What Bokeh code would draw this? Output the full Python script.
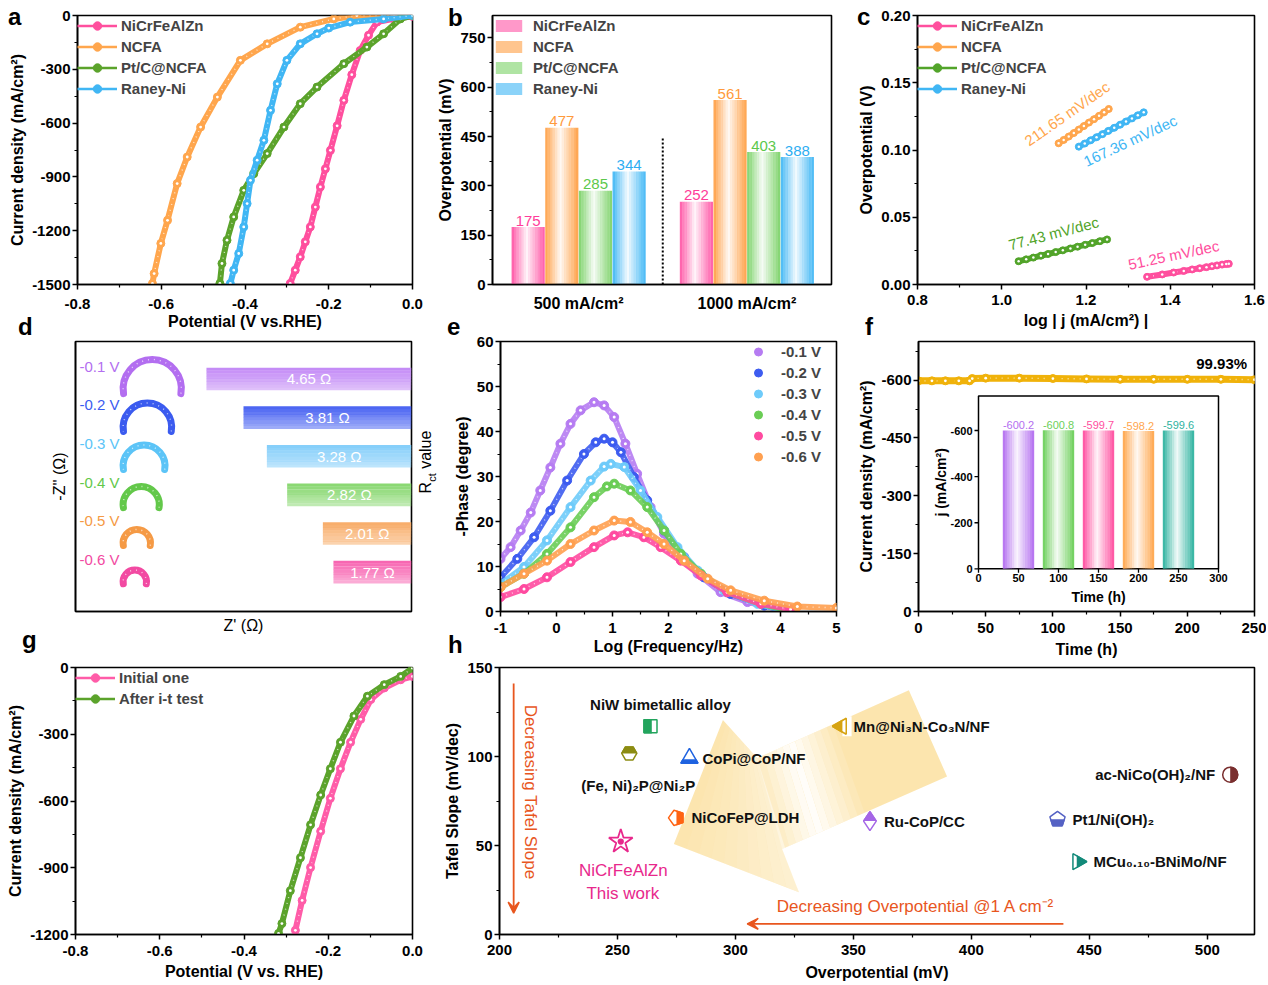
import math
from bokeh.plotting import figure
from bokeh.layouts import row, column
from bokeh.models import (Range1d, FixedTicker, Legend, LegendItem, Arrow, VeeHead, Div)
from bokeh.embed import file_html
from bokeh.resources import INLINE
from bokeh.core.properties import value

FONT = "Liberation Sans"

# ---------------- data ----------------
# (a) LSV
a_labels = ["NiCrFeAlZn", "NCFA", "Pt/C@NCFA", "Raney-Ni"]
a_x_nicr = [0.0, -0.045, -0.085, -0.105, -0.125, -0.145, -0.164, -0.180, -0.196, -0.208,
            -0.220, -0.232, -0.244, -0.256, -0.268, -0.280, -0.292]
a_y_nicr = [-5, -18, -37, -110, -195, -330, -473, -615, -752, -855, -956, -1068, -1179,
            -1262, -1346, -1420, -1494]
a_x_ncfa = [0.0, -0.133, -0.188, -0.268, -0.347, -0.411, -0.466, -0.506, -0.538, -0.562,
            -0.585, -0.601, -0.617, -0.621]
a_y_ncfa = [0, 0, -19, -65, -158, -250, -455, -622, -789, -937, -1142, -1271, -1439, -1494]
a_x_ptc = [0.0, -0.029, -0.069, -0.109, -0.164, -0.228, -0.268, -0.307, -0.347, -0.379,
           -0.403, -0.427, -0.443, -0.455, -0.460]
a_y_ptc = [0, -19, -102, -176, -269, -399, -492, -622, -770, -882, -975, -1123, -1253,
           -1383, -1494]
a_x_raney = [0.0, -0.069, -0.149, -0.200, -0.228, -0.268, -0.300, -0.323, -0.339, -0.355,
             -0.371, -0.387, -0.395, -0.403, -0.415, -0.427, -0.435]
a_y_raney = [0, -19, -37, -70, -102, -158, -250, -381, -529, -696, -807, -919, -1049,
             -1179, -1327, -1420, -1494]
a_xticks = [-0.8, -0.6, -0.4, -0.2, 0.0]
a_xtick_labels = ["-0.8", "-0.6", "-0.4", "-0.2", "0.0"]
a_yticks = [-1500, -1200, -900, -600, -300, 0]
a_ytick_labels = ["-1500", "-1200", "-900", "-600", "-300", "0"]

# (b) overpotential bars
b_groups = ["500 mA/cm²", "1000 mA/cm²"]
b_nicr = [175, 252]
b_ncfa = [477, 561]
b_ptc = [285, 403]
b_raney = [344, 388]
b_yticks = [0, 150, 300, 450, 600, 750]

# (c) Tafel
c_x_nicr = [1.345, 1.381, 1.408, 1.432, 1.452, 1.470, 1.486, 1.499, 1.511, 1.523, 1.533, 1.539]
c_y_nicr = [0.0057, 0.0075, 0.0089, 0.0101, 0.0112, 0.0121, 0.0129, 0.0136, 0.0142, 0.0148,
            0.0152, 0.0154]
c_x_ncfa = [1.135, 1.147, 1.159, 1.171, 1.183, 1.195, 1.207, 1.219, 1.231, 1.243, 1.254]
c_y_ncfa = [0.105, 0.1075, 0.110, 0.1126, 0.1152, 0.1178, 0.1204, 0.1229, 0.1254, 0.128, 0.1305]
c_x_ptc = [1.040, 1.058, 1.075, 1.093, 1.110, 1.128, 1.145, 1.163, 1.180, 1.198, 1.215, 1.233, 1.250]
c_y_ptc = [0.0173, 0.0187, 0.0200, 0.0214, 0.0227, 0.0241, 0.0254, 0.0268, 0.0281, 0.0295,
           0.0308, 0.0322, 0.0335]
c_x_raney = [1.183, 1.197, 1.211, 1.225, 1.239, 1.253, 1.267, 1.281, 1.295, 1.309, 1.323, 1.337]
c_y_raney = [0.1025, 0.1048, 0.1072, 0.1095, 0.1118, 0.1142, 0.1165, 0.1188, 0.1212, 0.1235,
             0.1258, 0.1280]
c_slopes = ["51.25 mV/dec", "211.65 mV/dec", "77.43 mV/dec", "167.36 mV/dec"]
c_xticks = [0.8, 1.0, 1.2, 1.4, 1.6]
c_xtick_labels = ["0.8", "1.0", "1.2", "1.4", "1.6"]
c_yticks = [0.0, 0.05, 0.10, 0.15, 0.20]
c_ytick_labels = ["0.00", "0.05", "0.10", "0.15", "0.20"]

# (d) Nyquist / Rct
d_volts = ["-0.1 V", "-0.2 V", "-0.3 V", "-0.4 V", "-0.5 V", "-0.6 V"]
d_rct = [4.65, 3.81, 3.28, 2.82, 2.01, 1.77]
d_arc_span = [1.32, 1.10, 0.95, 0.82, 0.62, 0.53]

# (e) Bode phase
e_labels = ["-0.1 V", "-0.2 V", "-0.3 V", "-0.4 V", "-0.5 V", "-0.6 V"]
e_x = [
    [-1.0, -0.82, -0.64, -0.46, -0.29, -0.11, 0.07, 0.25, 0.43, 0.67, 0.85, 1.03, 1.23, 1.44,
     1.68, 1.92, 2.22, 2.52, 2.93, 3.41, 4.0],
    [-1.0, -0.7, -0.4, -0.11, 0.19, 0.49, 0.70, 0.85, 1.0, 1.15, 1.38, 1.62, 1.92, 2.28, 2.63,
     3.11, 3.71, 4.0],
    [-1.0, -0.58, -0.17, 0.25, 0.61, 0.85, 0.97, 1.21, 1.5, 1.8, 2.16, 2.52, 2.99, 3.59, 4.0],
    [-1.0, -0.58, -0.17, 0.25, 0.67, 0.9, 1.03, 1.32, 1.62, 1.92, 2.22, 2.58, 3.05, 3.65, 4.06],
    [-1.0, -0.58, -0.17, 0.25, 0.67, 1.03, 1.27, 1.56, 1.86, 2.22, 2.58, 3.05, 3.65, 4.18],
    [-1.0, -0.58, -0.17, 0.25, 0.67, 1.03, 1.32, 1.62, 1.92, 2.28, 2.70, 3.11, 3.71, 4.30, 5.0],
]
e_y = [
    [11.7, 14.3, 18.0, 22.0, 26.9, 32.0, 37.3, 41.7, 44.7, 46.5, 45.8, 43.2, 37.3, 30.6, 23.2,
     17.3, 12.1, 8.4, 4.3, 2.1, 0.6],
    [7.6, 11.7, 16.5, 22.4, 29.1, 35.0, 37.6, 38.4, 37.6, 35.4, 29.9, 24.7, 18.0, 12.1, 7.6,
     3.9, 1.3, 0.4],
    [6.1, 9.9, 15.8, 23.2, 29.1, 32.2, 32.8, 32.1, 26.9, 21.0, 14.3, 9.1, 4.7, 1.7, 0.5],
    [5.4, 8.4, 12.8, 18.7, 25.4, 27.8, 28.4, 26.9, 23.2, 18.0, 12.8, 8.4, 4.3, 1.7, 0.5],
    [3.2, 5.0, 7.6, 11.0, 14.3, 16.9, 17.6, 16.5, 14.3, 11.3, 8.0, 4.3, 1.7, 0.5],
    [5.4, 8.4, 11.3, 15.0, 18.0, 20.2, 19.9, 17.6, 15.0, 11.3, 7.3, 4.7, 2.4, 1.1, 0.8],
]
e_xticks = [-1, 0, 1, 2, 3, 4, 5]
e_yticks = [0, 10, 20, 30, 40, 50, 60]

# (f) stability
f_t = [0, 10, 20, 30, 38, 40, 50, 75, 100, 125, 150, 175, 200, 225, 250]
f_j = [-598, -598, -598, -598, -598, -604, -605, -605, -604, -603, -602, -602, -602, -602, -601]
f_retention = "99.93%"
f_xticks = [0, 50, 100, 150, 200, 250]
f_yticks = [0, -150, -300, -450, -600]
fi_t = [50, 100, 150, 200, 250]
fi_j = [-600.2, -600.8, -599.7, -598.2, -599.6]
fi_xticks = [0, 50, 100, 150, 200, 250, 300]
fi_yticks = [0, -200, -400, -600]

# (g) LSV before / after
g_labels = ["Initial one", "After i-t test"]
g_x_init = [0.0, -0.028, -0.067, -0.099, -0.123, -0.147, -0.171, -0.195, -0.218, -0.242,
            -0.262, -0.278]
g_y_init = [-40, -55, -92, -144, -233, -336, -455, -588, -736, -899, -1047, -1181]
g_x_after = [0.0, -0.028, -0.067, -0.107, -0.139, -0.171, -0.195, -0.218, -0.242, -0.266,
             -0.290, -0.310, -0.318]
g_y_after = [-3, -40, -77, -129, -218, -336, -455, -573, -707, -855, -1003, -1151, -1195]
g_yticks = [-1200, -900, -600, -300, 0]

# (h) comparison
h_names = ["NiW bimetallic alloy", "(Fe, Ni)₂P@Ni₂P", "CoPi@CoP/NF", "NiCoFeP@LDH",
           "Mn@Ni₃N-Co₃N/NF", "Ru-CoP/CC", "Pt1/Ni(OH)₂", "MCu₀.₁₀-BNiMo/NF",
           "ac-NiCo(OH)₂/NF"]
h_eta = [264, 255, 280.5, 275, 345, 357, 436.5, 445, 509.7]
h_tafel = [117, 101.7, 99, 65.5, 117, 63.7, 64.7, 40.9, 89.8]
h_this_eta = [251.4]
h_this_tafel = [52.2]
h_xticks = [200, 250, 300, 350, 400, 450, 500]
h_yticks = [0, 50, 100, 150]

# ---------------- helpers ----------------

def mkfig(w, h, L, R, T, B, xr, yr):
    p = figure(width=w, height=h, x_range=xr, y_range=yr, output_backend="svg",
               toolbar_location=None, min_border_left=L, min_border_right=R,
               min_border_top=T, min_border_bottom=B)
    p.background_fill_color = "white"
    p.border_fill_color = "white"
    p.xgrid.visible = False
    p.ygrid.visible = False
    p.outline_line_color = "black"
    p.outline_line_width = 1.6
    p.outline_line_alpha = 1.0
    for ax in (p.xaxis[0], p.yaxis[0]):
        ax.axis_line_width = 1.6
        ax.axis_line_color = "black"
        ax.major_tick_line_width = 1.5
        ax.major_tick_out = 5
        ax.major_tick_in = 0
        ax.minor_tick_line_width = 1.2
        ax.minor_tick_out = 3
        ax.minor_tick_in = 0
        ax.major_label_text_font = FONT
        ax.major_label_text_font_size = "15px"
        ax.major_label_text_font_style = "bold"
        ax.major_label_text_color = "black"
        ax.major_label_standoff = 2
        ax.axis_label_text_font = FONT
        ax.axis_label_text_font_size = "16px"
        ax.axis_label_text_font_style = "bold"
        ax.axis_label_text_color = "black"
        ax.axis_label_standoff = 3
    return p


def xspacing(p, tick_standoff, label_standoff):
    p.xaxis.major_label_standoff = tick_standoff
    p.xaxis.axis_label_standoff = label_standoff


def ticks(ax, vals, labels=None, minor=None):
    ax.ticker = FixedTicker(ticks=list(vals), minor_ticks=list(minor or []))
    if labels is not None:
        ax.major_label_overrides = {v: l for v, l in zip(vals, labels)}


def beads(p, xs, ys, color, lw=6, size=8, **kw):
    thin = p.line(xs, ys, line_color=color, line_width=2.5, **kw)
    p.line(xs, ys, line_color=color, line_width=lw, line_cap="round", line_join="round", **kw)
    p.line(xs, ys, line_color="white", line_width=1.4, line_alpha=0.7, line_dash="1 5", **kw)
    dots = p.scatter(xs, ys, marker="circle", size=size, fill_color=color, line_color=color, **kw)
    p.scatter(xs, ys, marker="circle", size=max(2.5, size * 0.35), fill_color="white",
              line_color=None, **kw)
    return thin, dots


def legend(p, items, loc, glyph_w=40, glyph_h=21, label_w=20, standoff=4, size="15px"):
    lg = Legend(items=items, location=loc, border_line_color=None, background_fill_alpha=0,
                label_text_font=FONT, label_text_font_size=size, label_text_font_style="bold",
                glyph_width=glyph_w, glyph_height=glyph_h, label_height=21, label_width=label_w,
                spacing=0, padding=3, margin=0, label_standoff=standoff)
    p.add_layout(lg)
    return lg


def h_profile(t):
    if t < 0.45:
        return 1.0 - t / 0.45 * 0.95
    return 0.05 + (t - 0.45) / 0.55 * 0.95


def grad_vbars(p, xs, tops, width, color, n=14, **kw):
    rs = []
    for j in range(n):
        t = (j + 0.5) / n
        xj = [x - width / 2 + (j + 0.5) * width / n for x in xs]
        r = p.vbar(x=xj, top=tops, bottom=0, width=width / n * 1.08, fill_color=color,
                   fill_alpha=h_profile(t), line_color=None, **kw)
        rs.append(r)
    return rs

# ---------------- (a) ----------------
pa = mkfig(425, 332, 77, 13, 15, 48, Range1d(-0.8, 0.0), Range1d(-1500, 0))
ticks(pa.xaxis[0], a_xticks, a_xtick_labels, [-0.7, -0.5, -0.3, -0.1])
ticks(pa.yaxis[0], a_yticks, a_ytick_labels, [-1350, -1050, -750, -450, -150])
pa.xaxis.axis_label = "Potential (V vs.RHE)"
pa.yaxis.axis_label = "Current density (mA/cm²)"
xspacing(pa, 9, 1)
a_cols = ["#ff4f9e", "#ffa64d", "#5ba32b", "#40b6f4"]
items = []
for lab, xs, ys, c in zip(a_labels, [a_x_nicr, a_x_ncfa, a_x_ptc, a_x_raney],
                          [a_y_nicr, a_y_ncfa, a_y_ptc, a_y_raney], a_cols):
    thin, dots = beads(pa, xs, ys, c)
    items.append(LegendItem(label=lab, renderers=[thin, dots]))
legend(pa, items, "top_left")

# ---------------- (b) ----------------
pb = mkfig(420, 332, 67, 14, 15, 48, Range1d(-0.512, 1.503), Range1d(0, 818))
ticks(pb.yaxis[0], b_yticks, [str(v) for v in b_yticks], [75, 225, 375, 525, 675])
ticks(pb.xaxis[0], [0, 1], b_groups)
pb.xaxis.major_tick_out = 0
pb.xaxis.major_label_text_font_size = "16px"
pb.xaxis.major_label_standoff = 10
pb.yaxis.axis_label = "Overpotential (mV)"
b_cols = ["#ff5aa8", "#ffa24a", "#7fd36c", "#45b9f5"]
b_txt = ["#ff3d9a", "#ff9a3c", "#5cc84c", "#2eaef2"]
b_offsets = [-0.3, -0.1, 0.1, 0.3]
items = []
for lab, vals, c, tc, off in zip(a_labels, [b_nicr, b_ncfa, b_ptc, b_raney], b_cols, b_txt,
                                  b_offsets):
    xs = [g + off for g in range(len(b_groups))]
    rs = grad_vbars(pb, xs, vals, 0.196, c)
    items.append(LegendItem(label=lab, renderers=[rs[2]]))
    pb.text(x=xs, y=[v + 4 for v in vals], text=[str(v) for v in vals], text_color=tc,
            text_font=value(FONT), text_font_size="15px", text_align="center",
            text_baseline="bottom")
pb.segment(x0=[0.5], y0=[0], x1=[0.5], y1=[450], line_color="black", line_width=2,
           line_dash="2 2")
legend(pb, items, "top_left", glyph_w=33, glyph_h=15, standoff=8)

# ---------------- (c) ----------------
pc = mkfig(421, 332, 72, 12, 15, 48, Range1d(0.8, 1.6), Range1d(0.0, 0.20))
ticks(pc.xaxis[0], c_xticks, c_xtick_labels, [0.9, 1.1, 1.3, 1.5])
ticks(pc.yaxis[0], c_yticks, c_ytick_labels, [0.025, 0.075, 0.125, 0.175])
pc.xaxis.axis_label = "log | j (mA/cm²) |"
pc.yaxis.axis_label = "Overpotential (V)"
xspacing(pc, 5, 4)
c_cols = ["#ff4f9e", "#ffa64d", "#52a42a", "#40b6f4"]
items = []
for lab, xs, ys, c in zip(a_labels, [c_x_nicr, c_x_ncfa, c_x_ptc, c_x_raney],
                          [c_y_nicr, c_y_ncfa, c_y_ptc, c_y_raney], c_cols):
    thin, dots = beads(pc, xs, ys, c, lw=6, size=7)
    items.append(LegendItem(label=lab, renderers=[thin, dots]))
legend(pc, items, "top_left")
c_txt_pos = [(1.408, 0.022, 12), (1.155, 0.127, 35), (1.123, 0.038, 14.7), (1.305, 0.107, 25)]
for s, (tx, ty, ang), c in zip(c_slopes, c_txt_pos, c_cols):
    pc.text(x=[tx], y=[ty], text=[s], angle=math.radians(ang), text_color=c,
            text_font=value(FONT), text_font_size="15px", text_align="center",
            text_baseline="middle")

# ---------------- (d) ----------------
pd_ = mkfig(440, 328, 75, 29, 9, 49, Range1d(-7.62, 0.0), Range1d(6.02, -0.97))
for ax in (pd_.xaxis[0], pd_.yaxis[0]):
    ax.ticker = FixedTicker(ticks=[], minor_ticks=[])
    ax.major_tick_out = 0
    ax.minor_tick_out = 0
pd_.xaxis.axis_label = "Z' (Ω)"
pd_.yaxis.axis_label = "-Z'' (Ω)"
pd_.xaxis.axis_label_standoff = 5
pd_.yaxis.axis_label_standoff = 8
pd_.xaxis.axis_label_text_font_style = "normal"
pd_.yaxis.axis_label_text_font_style = "normal"
d_bar_cols = ["#c48cf6", "#4d66f2", "#86cffa", "#8ad872", "#f8ae6c", "#f766b2"]
d_txt_cols = ["#b36ef0", "#3b5bef", "#5cc4f7", "#63c84a", "#f59a45", "#f24aa2"]
idx = list(range(len(d_rct)))
nstrip = 8
bh = 0.58
for j in range(nstrip):
    a = 1.0 - 0.45 * j / (nstrip - 1)
    pd_.hbar(y=[i - bh / 2 + (j + 0.5) * bh / nstrip for i in idx], left=[-v for v in d_rct],
             right=0, height=bh / nstrip * 1.08, fill_color=d_bar_cols, fill_alpha=a,
             line_color=None)
pd_.text(x=[-v / 2 for v in d_rct], y=idx, text=[f"{v:.2f} Ω" for v in d_rct],
         text_color="white", text_font=value(FONT), text_font_size="15px",
         text_align="center", text_baseline="middle")
pd_.text(x=[-7.53] * len(idx), y=[i - 0.33 for i in idx], text=d_volts, text_color=d_txt_cols,
         text_font=value(FONT), text_font_size="15px", text_align="left",
         text_baseline="middle")
arc_x = [-6.54 + s / 2 for s in d_arc_span]
arc_r = [s / 2 for s in d_arc_span]
arc_y = [i + 0.25 for i in idx]
pd_.arc(x=arc_x, y=arc_y, radius=arc_r, start_angle=math.radians(-10),
        end_angle=math.radians(190), line_color=d_txt_cols, line_width=7, line_cap="round")
pd_.arc(x=arc_x, y=arc_y, radius=arc_r, start_angle=math.radians(-10),
        end_angle=math.radians(190), line_color="white", line_width=1.4, line_alpha=0.7,
        line_dash="1 5")

# ---------------- (e) ----------------
pe = mkfig(410, 328, 60, 14, 9, 49, Range1d(-1, 5), Range1d(0, 60))
ticks(pe.xaxis[0], e_xticks, [str(v) for v in e_xticks], [-0.5, 0.5, 1.5, 2.5, 3.5, 4.5])
ticks(pe.yaxis[0], e_yticks, [str(v) for v in e_yticks], [5, 15, 25, 35, 45, 55])
pe.xaxis.axis_label = "Log (Frequency/Hz)"
pe.yaxis.axis_label = "-Phase (degree)"
xspacing(pe, 6, 2)
e_cols = ["#b67cf2", "#3d5cf0", "#6ecbfa", "#6acd55", "#ff4aa0", "#ffa050"]
items = []
for lab, xs, ys, c in zip(e_labels, e_x, e_y, e_cols):
    pe.line(xs, ys, line_color=c, line_width=6, line_cap="round", line_join="round",
            line_alpha=0.9)
    pe.line(xs, ys, line_color="white", line_width=1.4, line_alpha=0.7, line_dash="1 5")
    r = pe.scatter(xs, ys, marker="circle", size=9, fill_color=c, line_color=c)
    pe.scatter(xs, ys, marker="circle", size=3, fill_color="white", line_color=None)
    items.append(LegendItem(label=lab, renderers=[r]))
legend(pe, items, "top_right", glyph_w=20, label_w=55, standoff=13)

# ---------------- (f) ----------------
pf = mkfig(416, 328, 68, 12, 9, 49, Range1d(0, 250), Range1d(0, -700))
ticks(pf.xaxis[0], f_xticks, [str(v) for v in f_xticks], [25, 75, 125, 175, 225])
ticks(pf.yaxis[0], f_yticks, [str(v) for v in f_yticks], [-75, -225, -375, -525, -675])
pf.xaxis.axis_label = "Time (h)"
pf.yaxis.axis_label = "Current density (mA/cm²)"
xspacing(pf, 6, 5)
beads(pf, f_t, f_j, "#f0b20a", lw=7, size=8)
pf.text(x=[244.5], y=[-643], text=[f_retention], text_font=value(FONT), text_font_size="15px",
        text_font_style="bold", text_align="right", text_baseline="middle")
# inset drawn on its own ranges
FI_PX_X = 336 / 420.0
FI_PX_Y = 270 / 1171.0
pf.extra_x_ranges = {"ix": Range1d(-75, 345)}
pf.extra_y_ranges = {"iy": Range1d(185, -986)}
IK = dict(x_range_name="ix", y_range_name="iy")
pf.quad(left=[fi_xticks[0]], right=[fi_xticks[-1]], bottom=[0], top=[-750], fill_color="white",
        line_color="black", line_width=1.5, **IK)
fi_cols = ["#b36ef0", "#6ccf5a", "#ff4fa0", "#ffa64d", "#2fb3a0"]
for j in range(14):
    t = (j + 0.5) / 14
    pf.vbar(x=[x - 19.5 + (j + 0.5) * 39 / 14 for x in fi_t], top=fi_j, bottom=0,
            width=39 / 14 * 1.08, fill_color=fi_cols, fill_alpha=h_profile(t), line_color=None,
            **IK)
pf.text(x=fi_t, y=[v - 6 for v in fi_j], text=[f"{v:.1f}" for v in fi_j], text_color=fi_cols,
        text_font=value(FONT), text_font_size="11px", text_align="center",
        text_baseline="bottom", **IK)
pf.segment(x0=fi_xticks, y0=[0] * len(fi_xticks), x1=fi_xticks,
           y1=[4 / FI_PX_Y] * len(fi_xticks), line_color="black", line_width=1.3, **IK)
pf.segment(x0=[0] * len(fi_yticks), y0=fi_yticks, x1=[-4 / FI_PX_X] * len(fi_yticks),
           y1=fi_yticks, line_color="black", line_width=1.3, **IK)
pf.text(x=fi_xticks, y=[5 / FI_PX_Y] * len(fi_xticks), text=[str(v) for v in fi_xticks],
        text_font=value(FONT), text_font_size="11px", text_font_style="bold",
        text_align="center", text_baseline="top", **IK)
pf.text(x=[-6 / FI_PX_X] * len(fi_yticks), y=fi_yticks, text=[str(v) for v in fi_yticks],
        text_font=value(FONT), text_font_size="11px", text_font_style="bold",
        text_align="right", text_baseline="middle", **IK)
pf.text(x=[150], y=[28 / FI_PX_Y], text=["Time (h)"], text_font=value(FONT),
        text_font_size="14px", text_font_style="bold", text_align="center",
        text_baseline="middle", **IK)
pf.text(x=[-38 / FI_PX_X], y=[-375], text=["j (mA/cm²)"], angle=math.pi / 2,
        text_font=value(FONT), text_font_size="14px", text_font_style="bold",
        text_align="center", text_baseline="middle", **IK)

# ---------------- (g) ----------------
pg = mkfig(440, 325, 75, 28, 4, 51, Range1d(-0.8, 0.0), Range1d(-1200, 0))
ticks(pg.xaxis[0], a_xticks, a_xtick_labels, [-0.7, -0.5, -0.3, -0.1])
ticks(pg.yaxis[0], g_yticks, [str(v) for v in g_yticks], [-1050, -750, -450, -150])
pg.xaxis.axis_label = "Potential (V vs. RHE)"
pg.yaxis.axis_label = "Current density (mA/cm²)"
xspacing(pg, 6, 4)
items = []
for lab, xs, ys, c in zip(g_labels, [g_x_init, g_x_after], [g_y_init, g_y_after],
                          ["#ff5ca8", "#5ba32b"]):
    thin, dots = beads(pg, xs, ys, c)
    items.append(LegendItem(label=lab, renderers=[thin, dots]))
legend(pg, items, "top_left")

# ---------------- (h) ----------------
ph = mkfig(826, 325, 59, 12, 7, 49, Range1d(200, 520), Range1d(0, 150))
ticks(ph.xaxis[0], h_xticks, [str(v) for v in h_xticks], [225, 275, 325, 375, 425, 475])
ticks(ph.yaxis[0], h_yticks, [str(v) for v in h_yticks], [25, 75, 125])
ph.xaxis.axis_label = "Overpotential (mV)"
ph.yaxis.axis_label = "Tafel Slope (mV/dec)"
xspacing(ph, 5, 6)
PXX = 755 / 320.0
PXY = 269 / 150.0
# decorative big arrow (layout geometry)
HT, TIP, HB = (294.7, 120.5), (273.9, 50.8), (326.9, 23.8)
SBJ, TB, TT, SJT = (319.8, 48.0), (389.7, 88.8), (373.5, 137.2), (309.2, 99.1)
poly = [HT, TIP, HB, SBJ, TB, TT, SJT]
ph.patch([q[0] for q in poly], [q[1] for q in poly], fill_color="#fbe0a0", fill_alpha=0.85,
         line_color=None)
lerp = lambda P, Q, t: (P[0] + (Q[0] - P[0]) * t, P[1] + (Q[1] - P[1]) * t)
qx, qy, qa = [], [], []
N = 24
for k in range(N):
    t0, t1 = k / N, (k + 1) / N
    a0, a1 = lerp(SJT, TT, t0), lerp(SJT, TT, t1)
    b0, b1 = lerp(SBJ, TB, t0), lerp(SBJ, TB, t1)
    qx.append([a0[0], a1[0], b1[0], b0[0]])
    qy.append([a0[1], a1[1], b1[1], b0[1]])
    qa.append(max(0.0, 1 - abs((t0 + t1) / 2 - 0.22) / 0.3) * 0.95)
ph.patches(qx, qy, fill_color="white", fill_alpha=qa, line_color=None)
hx, hy, ha = [], [], []
for k in range(10):
    t0, t1 = k / 10, (k + 1) / 10
    p0, p1 = lerp(HT, SJT, t0), lerp(HT, SJT, t1)
    q0, q1 = lerp(TIP, HB, t0), lerp(TIP, HB, t1)
    hx.append([p0[0], p1[0], q1[0], q0[0]])
    hy.append([p0[1], p1[1], q1[1], q0[1]])
    ha.append(0.45 * (t0 + t1) / 2)
ph.patches(hx, hy, fill_color="white", fill_alpha=ha, line_color=None)

OR = "#e8561e"
ph.add_layout(Arrow(end=VeeHead(size=11, line_color=OR, fill_color=OR, line_width=1.5),
                    x_start=206, y_start=141, x_end=206, y_end=12, line_color=OR,
                    line_width=1.8))
ph.add_layout(Arrow(end=VeeHead(size=11, line_color=OR, fill_color=OR, line_width=1.5),
                    x_start=439, y_start=6, x_end=305, y_end=6, line_color=OR,
                    line_width=1.8))
ph.text(x=[213], y=[80], text=["Decreasing Tafel Slope"], angle=-math.pi / 2, text_color=OR,
        text_font=value(FONT), text_font_size="17px", text_align="center",
        text_baseline="middle")
ph.text(x=[376.5], y=[15.5], text=["Decreasing Overpotential @1 A cm⁻²"], text_color=OR,
        text_font=value(FONT), text_font_size="17px", text_align="center",
        text_baseline="middle")

H_STYLE = [
    dict(m="square", c="#22a45d", side="right", f=0.4, s=13, ang=0, al="center", dx=10, dy=-22),
    dict(m="hex", c="#8c8c12", side="bottom", f=0.5, s=15, ang=0, al="center", dx=9, dy=32),
    dict(m="triangle", c="#1f63e0", side="top", f=0.55, s=17, ang=0, al="left", dx=13, dy=0),
    dict(m="pent", c="#ff6414", side="left", f=0.5, s=16, ang=math.pi / 2, al="left", dx=15, dy=0),
    dict(m="triangle", c="#d6a312", side="right", f=0.45, s=16, ang=math.pi / 2, al="left", dx=12, dy=0),
    dict(m="diamond", c="#a566e6", side="bottom", f=0.5, s=19, ang=0, al="left", dx=14, dy=0),
    dict(m="pent", c="#5562c4", side="top", f=0.5, s=16, ang=0, al="left", dx=15, dy=0),
    dict(m="triangle", c="#138a7a", side="left", f=0.45, s=16, ang=-math.pi / 2, al="left", dx=16, dy=0),
    dict(m="circle", c="#7a2f2f", side="left", f=0.5, s=15, ang=0, al="right", dx=-15, dy=0),
]


def draw_marker(p, x, y, st, fill):
    fc = st["c"] if fill else None
    if st["m"] == "pent":
        try:
            p.ngon(x=[x], y=[y], radius=st["s"] / 2, radius_units="screen", n=5,
                   angle=st["ang"], fill_color=fc, line_color=st["c"], line_width=1.5)
            return
        except Exception:
            p.scatter([x], [y], marker="hex", size=st["s"], fill_color=fc,
                      line_color=st["c"], line_width=1.5)
            return
    p.scatter([x], [y], marker=st["m"], size=st["s"], angle=st["ang"], fill_color=fc,
              line_color=st["c"], line_width=1.5)


for name, ex, ty, st in zip(h_names, h_eta, h_tafel, H_STYLE):
    s, f = st["s"], st["f"]
    draw_marker(ph, ex, ty, st, True)
    off = (s / 2 - f * s / 2 + 1)
    if st["side"] == "right":
        cx, cy, w, h = ex + off / PXX, ty, f * s + 2, s + 4
    elif st["side"] == "left":
        cx, cy, w, h = ex - off / PXX, ty, f * s + 2, s + 4
    elif st["side"] == "top":
        cx, cy, w, h = ex, ty + off / PXY, s + 4, f * s + 2
    else:
        cx, cy, w, h = ex, ty - off / PXY, s + 4, f * s + 2
    ph.rect([cx], [cy], width=w, height=h, width_units="screen", height_units="screen",
            fill_color="white", line_color=None)
    draw_marker(ph, ex, ty, st, False)
    ph.text(x=[ex], y=[ty], text=[name], x_offset=st["dx"], y_offset=st["dy"],
            text_font=value(FONT), text_font_size="15px", text_font_style="bold",
            text_color="#111111", text_align=st["al"], text_baseline="middle")

PINK = "#e8288c"
ph.scatter(h_this_eta, h_this_tafel, marker="star_dot", size=25, fill_color="white",
           line_color=PINK, line_width=1.8)
ph.text(x=h_this_eta * 2, y=h_this_tafel * 2, text=["NiCrFeAlZn", "This work"],
        x_offset=[2.5, 2], y_offset=[29, 52], text_color=PINK, text_font=value(FONT),
        text_font_size="17px", text_align="center", text_baseline="middle")

# ---------------- panel letters and the R_ct axis title (page overlay) ----------------
LETTERS = [("a", 3, 20), ("b", 443, 21), ("c", 852, 20), ("d", 13, 330), ("e", 442, 330),
           ("f", 860, 330), ("g", 17, 643), ("h", 443, 648)]
spans = []
for ch, lx, base in LETTERS:
    spans.append(
        f'<span style="position:absolute;left:{lx}px;top:{base - 20}px;'
        f"font-family:'Liberation Sans';font-weight:bold;font-size:24px;line-height:24px;"
        f'color:#000;">{ch}</span>')
spans.append(
    '<span style="position:absolute;left:424px;top:457px;white-space:nowrap;'
    "transform:translate(-50%,-50%) rotate(-90deg);font-family:'Liberation Sans';"
    'font-size:16px;line-height:18px;color:#000;">R<sub style="font-size:11px;">ct</sub> value</span>')
overlay = Div(text="".join(spans), width=1, height=1,
              styles={"position": "absolute", "left": "0px", "top": "0px", "z-index": "10",
                      "overflow": "visible"})

layout = column(overlay, row(pa, pb, pc), row(pd_, pe, pf), row(pg, ph))
open("out.html", "w").write(file_html(layout, INLINE))
